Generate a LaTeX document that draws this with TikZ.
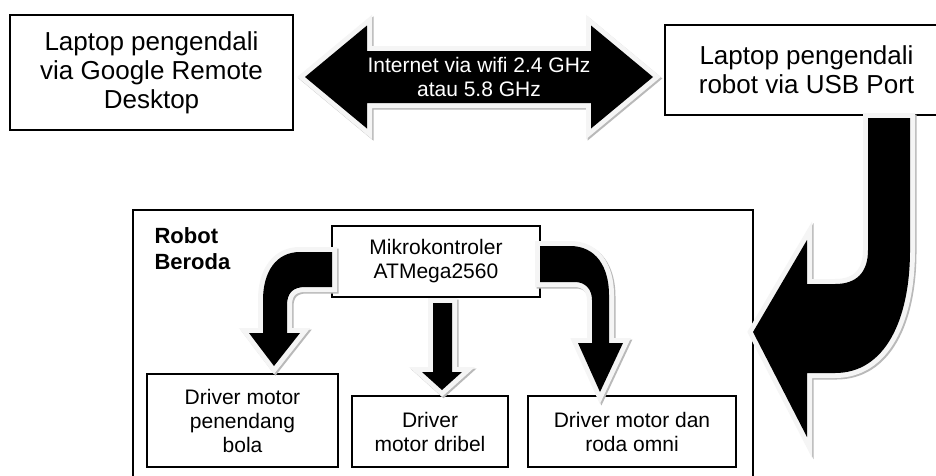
\documentclass[tikz,border=0pt]{standalone}
\usepackage{fontspec}
\setmainfont{Liberation Sans}
\usetikzlibrary{positioning}
\newcommand{\glowcolor}{gray!8}
\newcommand{\shadecolor}{gray!55}
\newcommand{\glow}{5pt}
% block arrow outlines
\newcommand{\netpath}{(305,77) -- (367,25.5) -- (367,51) -- (591,51) -- (591,25.5) -- (653,77) -- (591,128.5) -- (591,103) -- (367,103) -- (367,128.5) -- cycle}
\newcommand{\usbpath}{(868,118) -- (868,250) .. controls (868,272) and (857,284) .. (835,284) -- (807,284) -- (807,240) -- (753,332) -- (807,437) -- (807,373) -- (835,373) .. controls (885,373) and (910,320) .. (910,250) -- (910,118) -- cycle}
\newcommand{\kickpath}{(332,252) -- (300,252) .. controls (276,252) and (263,272) .. (263,300) -- (263,333) -- (249,333) -- (274,366) -- (300,333) -- (287,333) -- (287,305) .. controls (287,293) and (293,287) .. (305,287) -- (332,287) -- cycle}
\newcommand{\dribpath}{(433,303) -- (452,303) -- (452,372) -- (462,372) -- (442,390) -- (422,372) -- (433,372) -- cycle}
\newcommand{\omnipath}{(540,246) -- (570,246) .. controls (596,246) and (609,267) .. (609,295) -- (609,343) -- (623,343) -- (600,392) -- (578,343) -- (592,343) -- (592,300) .. controls (592,289) and (585,282) .. (575,282) -- (540,282) -- cycle}
\tikzset{
  box/.style={draw, line width=1.3pt, fill=white, inner sep=0pt, align=center},
  bigtext/.style={font=\fontsize{26}{29}\selectfont},
  smalltext/.style={font=\fontsize{21}{24}\selectfont}
}

\begin{document}
\begin{tikzpicture}[x=1pt, y=-1pt]
\useasboundingbox (0,0) rectangle (936,475);
\clip (0,0) rectangle (936,475);
\fill[white] (0,0) rectangle (936,475);
\node[box, bigtext, minimum width=283, minimum height=115] (remote) at (151.5,72.5) {Laptop pengendali\\via Google Remote\\Desktop};
\node[box, bigtext, minimum width=283, minimum height=90] (usb) at (806.5,70) {Laptop pengendali\\robot via USB Port};
\node[box, minimum width=620, minimum height=280] (robot) at (443,350) {};
\node[anchor=north west, inner sep=0pt, align=left, font=\bfseries\fontsize{22}{26}\selectfont,
  below right=18pt and 22pt of robot.north west] (robotname) {Robot\\Beroda};
\node[box, smalltext, minimum width=208, minimum height=71] (mcu) at (436,261.5) {Mikrokontroler\\ATMega2560};
\node[box, smalltext, minimum width=191, minimum height=93] (kicker) at (242.5,420.5) {Driver motor\\penendang\\bola};
\node[box, smalltext, minimum width=156, minimum height=71] (dribbler) at (430,431.5) {Driver\\motor dribel};
\node[box, smalltext, minimum width=208, minimum height=71] (omni) at (632,431.5) {Driver motor dan\\roda omni};
%wifi link
\draw[\shadecolor, line width=2*\glow, shift={(1.5,1.5)}] \netpath;
\draw[\glowcolor, line width=2*\glow] \netpath;
\fill[black] \netpath;
%usb cable
\draw[\shadecolor, line width=2*\glow, shift={(1.5,1.5)}] \usbpath;
\draw[\glowcolor, line width=2*\glow] \usbpath;
\fill[black] \usbpath;
%mcu to drivers
\draw[\shadecolor, line width=2*\glow, shift={(1.5,1.5)}] \kickpath;
\draw[\glowcolor, line width=2*\glow] \kickpath;
\fill[black] \kickpath;
\draw[\shadecolor, line width=2*\glow, shift={(1.5,1.5)}] \dribpath;
\draw[\glowcolor, line width=2*\glow] \dribpath;
\fill[black] \dribpath;
\draw[\shadecolor, line width=2*\glow, shift={(1.5,1.5)}] \omnipath;
\draw[\glowcolor, line width=2*\glow] \omnipath;
\fill[black] \omnipath;
\node[smalltext, text=white, align=center] (wifi) at (479,77) {Internet via wifi 2.4 GHz\\atau 5.8 GHz};
\end{tikzpicture}
\end{document}
